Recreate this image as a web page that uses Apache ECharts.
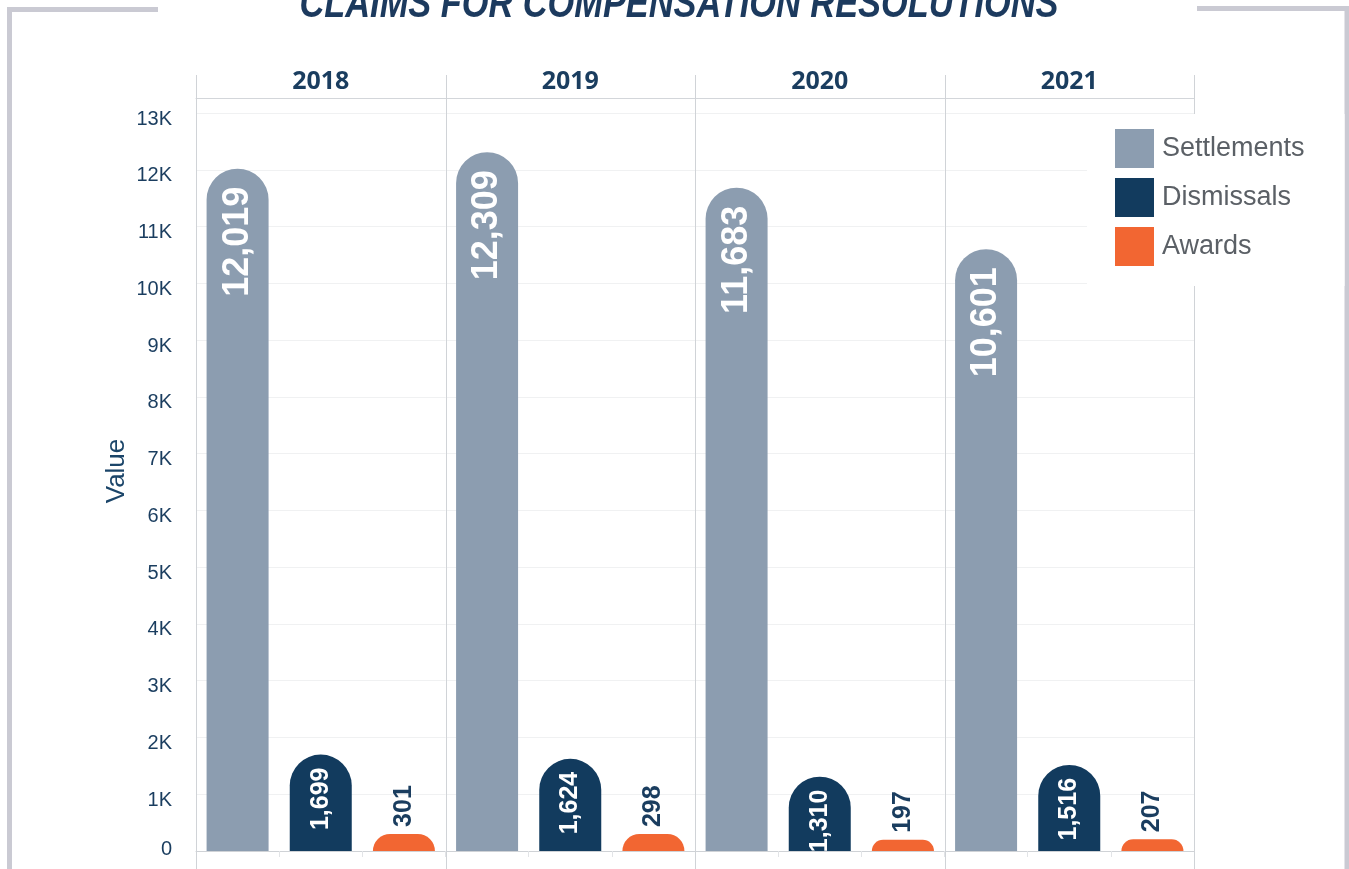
<!DOCTYPE html>
<html>
<head>
<meta charset="utf-8">
<script src="https://cdn.jsdelivr.net/npm/echarts@6/dist/echarts.min.js"></script>
<style>
  html, body { margin: 0; padding: 0; background: #fff; }
  #main { width: 1349px; height: 869px; }
</style>
</head>
<body>
<div id="main"></div>
<script>
var years = ['2018', '2019', '2020', '2021'];
var categories = ['Settlements', 'Dismissals', 'Awards'];
var settlements = [12019, 12309, 11683, 10601];
var dismissals = [1699, 1624, 1310, 1516];
var awards = [301, 298, 197, 207];

var colors = { Settlements: '#8c9db0', Dismissals: '#123b5e', Awards: '#f26632' };
var navy = '#1a3d5f';

function fmt(v) {
    return String(v).replace(/\B(?=(\d{3})+(?!\d))/g, ',');
}

var chart = echarts.init(document.getElementById('main'));

var plotLeft = 196, plotRight = 1194, plotTop = 113, plotBottom = 851;
var panelW = (plotRight - plotLeft) / years.length;
var tickFont = { fontSize: 20, color: navy, fontFamily: 'Liberation Sans' };

var grids = [], xAxes = [], yAxes = [], series = [], gfx = [];
for (var i = 0; i < years.length; i++) {
    grids.push({ left: plotLeft + i * panelW, width: panelW, top: plotTop, bottom: 869 - plotBottom });
    // bottom category axis
    xAxes.push({
        type: 'category', gridIndex: i, data: categories,
        axisLabel: { show: false },
        axisTick: { show: true, length: 6, lineStyle: { color: '#e2e4e7' } },
        axisLine: { lineStyle: { color: '#cfd2d6' } }
    });
    // year header
    xAxes.push({
        type: 'category', gridIndex: i, position: 'top', offset: 15, data: [years[i]],
        axisTick: { show: false },
        axisLine: { lineStyle: { color: '#d3d6da' } },
        axisLabel: { margin: 4, color: navy, fontSize: 25, fontWeight: 'bold', fontFamily: 'Noto Sans' }
    });
    yAxes.push({
        type: 'value', gridIndex: i, min: 0, max: 13000, interval: 1000,
        name: i === 0 ? 'Value' : '', nameLocation: 'middle', nameGap: 66,
        nameTextStyle: { color: '#1b4569', fontSize: 26, fontFamily: 'Liberation Sans', padding: [0, 0, 0, 22] },
        axisLine: { show: false }, axisTick: { show: false },
        axisLabel: {
            show: i === 0, margin: 24, color: navy, fontSize: 20, fontFamily: 'Liberation Sans',
            formatter: function (v) { return v === 0 ? '{z|0}' : '{k|' + (v / 1000) + 'K}'; },
            rich: {
                k: Object.assign({ padding: [12, 0, 0, 0] }, tickFont),
                z: Object.assign({ padding: [0, 0, 4, 0] }, tickFont)
            }
        },
        splitLine: { lineStyle: { color: '#f0f1f2' } }
    });

    var s = ['-', '-', '-'], d = ['-', '-', '-'], a = ['-', '-', '-'];
    s[0] = settlements[i]; d[1] = dismissals[i]; a[2] = awards[i];
    var base = { type: 'bar', xAxisIndex: i * 2, yAxisIndex: i, barWidth: 62, barGap: '-100%' };
    series.push(Object.assign({}, base, {
        name: 'Settlements', data: s,
        itemStyle: { color: colors.Settlements, borderRadius: [31, 31, 0, 0] },
        label: {
            show: true, position: 'insideTop', rotate: 90, align: 'right', verticalAlign: 'middle',
            distance: 18, color: '#fff', fontSize: 36, fontWeight: 'bold', fontFamily: 'Liberation Sans',
            formatter: function (p) { return fmt(p.value); }
        }
    }));
    series.push(Object.assign({}, base, {
        name: 'Dismissals', data: d,
        itemStyle: { color: colors.Dismissals, borderRadius: [31, 31, 0, 0] },
        label: {
            show: true, position: 'insideTop', rotate: 90, align: 'right', verticalAlign: 'middle',
            distance: 13, color: '#fff', fontSize: 25, fontWeight: 'bold', fontFamily: 'Liberation Sans',
            formatter: function (p) { return fmt(p.value); }
        }
    }));
    series.push(Object.assign({}, base, {
        name: 'Awards', data: a,
        itemStyle: { color: colors.Awards, borderRadius: [31, 31, 0, 0] },
        label: {
            show: true, position: 'top', rotate: 90, align: 'left', verticalAlign: 'middle',
            distance: 7, color: navy, fontSize: 25, fontWeight: 'bold', fontFamily: 'Liberation Sans',
            formatter: function (p) { return fmt(p.value); }
        }
    }));
}

// panel separators
for (var k = 0; k <= years.length; k++) {
    var x = Math.round(plotLeft + k * panelW) + 0.5;
    gfx.push({
        type: 'line', z: 1, silent: true,
        shape: { x1: x, y1: 75, x2: x, y2: 869 },
        style: { stroke: '#d0d3d7', lineWidth: 1 }
    });
}
// outer frame
gfx.push({
    type: 'polyline', z: 1, silent: true,
    shape: { points: [[9.5, 869], [9.5, 9.5], [158, 9.5]] },
    style: { stroke: '#cacad3', lineWidth: 5, fill: null }
});
gfx.push({
    type: 'polyline', z: 1, silent: true,
    shape: { points: [[1197, 8.5], [1347, 8.5], [1347, 869]] },
    style: { stroke: '#cacad3', lineWidth: 5, fill: null }
});
// title, condensed
gfx.push({
    type: 'text', z: 5, x: 679, y: 5, scaleX: 0.818, silent: true,
    style: {
        text: 'CLAIMS FOR COMPENSATION RESOLUTIONS', x: 0, y: 0,
        align: 'center', verticalAlign: 'middle',
        fill: '#1c3a5e', fontSize: 42, fontWeight: 'bold', fontStyle: 'italic',
        fontFamily: 'Liberation Sans'
    }
});

var option = {
    animation: false,
    color: [colors.Settlements, colors.Dismissals, colors.Awards],
    legend: {
        data: categories, orient: 'vertical', left: 1087, top: 114, z: 10,
        backgroundColor: '#fff', padding: [15, 40, 20, 28],
        itemWidth: 39, itemHeight: 39, itemGap: 10, icon: 'rect',
        textStyle: { color: '#5b6066', fontSize: 27, fontFamily: 'Liberation Sans', padding: [0, 0, 0, 3] }
    },
    grid: grids,
    xAxis: xAxes,
    yAxis: yAxes,
    series: series,
    graphic: gfx
};
chart.setOption(option);
</script>
</body>
</html>
